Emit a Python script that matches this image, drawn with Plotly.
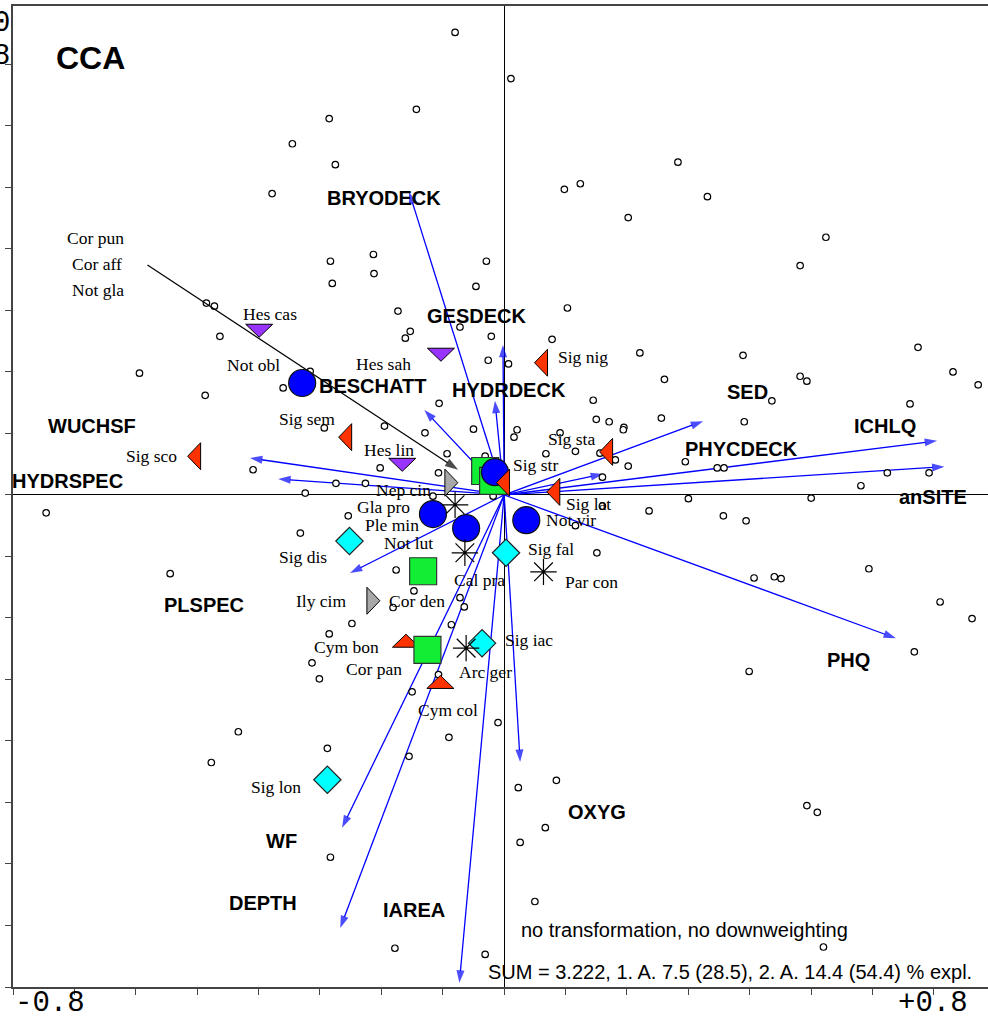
import plotly.graph_objects as go

# ---------------- data (CCA scores) ----------------
site_x = [-0.080, 0.011, -0.143, -0.285, -0.345, -0.275, 0.283, 0.124, 0.098, 0.331,
          -0.378, 0.202, 0.524, -0.213, -0.283, -0.029, 0.482, -0.212, -0.280, -0.046,
          -0.485, -0.472, -0.463, -0.173, 0.103, -0.153, -0.161, -0.072, -0.021, -0.026,
          -0.316, -0.360, -0.106, -0.195, -0.129, -0.293, -0.050, -0.093, -0.202, -0.107,
          -0.409, -0.274, -0.226, -0.324, -0.594, -0.487, -0.746, -0.544, 0.078, 0.221,
          0.389, 0.007, 0.261, 0.145, 0.150, 0.171, 0.195, 0.194, 0.256, 0.391,
          0.021, 0.016, 0.091, 0.068, 0.116, 0.156, 0.181, 0.202, 0.295, 0.347,
          0.358, 0.160, 0.300, 0.236, 0.357, 0.394, 0.160, 0.482, 0.493, 0.772,
          0.436, 0.661, 0.674, 0.731, 0.624, 0.692, 0.581, 0.500, 0.594, 0.407,
          0.440, 0.451, 0.710, 0.762, 0.668, 0.399, 0.493, 0.510, 0.520, 0.023,
          0.085, 0.067, 0.026, 0.050, -0.178, -0.031, -0.433, -0.477, -0.288, -0.248,
          -0.285, -0.313, -0.301, -0.065, -0.181, -0.086, -0.107, -0.150, -0.090, -0.155,
          -0.010, -0.116, -0.254, -0.332, -0.176, -0.147, -0.072, 0.151, 0.116, -0.283,
          -0.031, -0.018]
site_y = [0.752, 0.677, 0.627, 0.612, 0.571, 0.537, 0.541, 0.506, 0.497, 0.485,
          0.490, 0.451, 0.419, 0.391, 0.380, 0.380, 0.373, 0.360, 0.344, 0.339,
          0.312, 0.307, 0.258, 0.299, 0.304, 0.266, 0.255, 0.273, 0.258, 0.219,
          0.201, 0.174, 0.149, 0.112, 0.101, 0.109, 0.107, 0.067, 0.044, 0.036,
          0.041, 0.019, 0.019, 0.003, 0.198, 0.162, -0.029, -0.128, 0.253, 0.231,
          0.227, 0.213, 0.188, 0.154, 0.123, 0.119, 0.110, 0.106, 0.125, 0.119,
          0.106, 0.094, 0.101, 0.067, 0.071, 0.068, 0.057, 0.047, 0.054, 0.044,
          0.044, 0.029, -0.006, -0.026, -0.034, -0.042, -0.018, 0.193, 0.185, 0.179,
          0.153, 0.148, 0.240, 0.200, 0.036, 0.036, 0.015, -0.005, -0.120, -0.135,
          -0.133, -0.136, -0.174, -0.201, -0.255, -0.287, -0.505, -0.516, -0.735, -0.476,
          -0.464, -0.541, -0.565, -0.661, -0.737, -0.747, -0.385, -0.435, -0.412, -0.209,
          -0.226, -0.273, -0.299, -0.182, -0.183, -0.211, -0.292, -0.320, -0.394, -0.425,
          -0.370, -0.002, -0.034, -0.062, -0.122, -0.156, -0.167, -0.094, -0.050, -0.589,
          0.063, -0.002]

env_names = ["BRYODECK", "GESDECK", "HYDRDECK", "BESCHATT", "WUCHSF", "HYDRSPEC", "SED",
             "PHYCDECK", "ICHLQ", "anSITE", "PHQ", "PLSPEC", "WF", "DEPTH", "IAREA", "OXYG"]
env_x = [-0.155, -0.002, -0.015, -0.130, -0.414, -0.368, 0.324, 0.161, 0.705, 0.717,
         0.638, -0.251, -0.264, -0.267, -0.073, 0.026]
env_y = [0.493, 0.244, 0.153, 0.138, 0.060, 0.026, 0.120, 0.034, 0.088, 0.046,
         -0.233, -0.127, -0.541, -0.704, -0.793, -0.434]

circ_names = ["Not obl", "Not gla", "Ple min", "Not lut", "Not vir"]
circ_x = [-0.329, -0.015, -0.116, -0.062, 0.036]
circ_y = [0.182, 0.037, -0.031, -0.054, -0.041]

sq_names = ["Cor pun", "Cor aff", "Cor den", "Cor pan"]
sq_x = [-0.031, -0.018, -0.132, -0.125]
sq_y = [0.039, 0.023, -0.124, -0.252]

redl_names = ["Sig nig", "Sig sem", "Sig sco", "Sig sta", "Sig lat", "Sig str"]
redl_x = [0.060, -0.259, -0.505, 0.166, 0.080, -0.002]
redl_y = [0.215, 0.094, 0.063, 0.070, 0.005, 0.020]

redu_names = ["Cym bon", "Cym col"]
redu_x = [-0.160, -0.104]
redu_y = [-0.237, -0.304]

purp_names = ["Hes cas", "Hes sah", "Hes lin"]
purp_x = [-0.399, -0.103, -0.166]
purp_y = [0.267, 0.228, 0.049]

gray_names = ["Nep cin", "Ily cim"]
gray_x = [-0.086, -0.213]
gray_y = [0.020, -0.172]

dia_names = ["Sig dis", "Sig fal", "Sig iac", "Sig lon"]
dia_x = [-0.252, 0.003, -0.036, -0.288]
dia_y = [-0.075, -0.094, -0.241, -0.463]

ast_names = ["Gla pro", "Cal pra", "Par con", "Arc ger"]
ast_x = [-0.080, -0.064, 0.064, -0.062]
ast_y = [-0.016, -0.094, -0.125, -0.249]

# species whose labels are grouped and joined by a leader line
leader_names = ["Cor pun", "Cor aff", "Not gla"]

# ---------------- layout / style ----------------
W, H = 988, 1018
ML, MR, MT, MB = 13, 0, 6, 31
X_RANGE = [-0.8, 0.788]
Y_RANGE = [-0.8, 0.795]
PX_X = (W - ML - MR) / (X_RANGE[1] - X_RANGE[0])
PX_Y = (H - MT - MB) / (Y_RANGE[1] - Y_RANGE[0])

# label offsets in pixels (dx right, dy up)
env_lab_off = [(-25, -6), (-26, 29), (14, 11), (-52, 24), (-158, 32), (-211, -2), (44, 29),
               (138, 25), (-52, 15), (-11, -30), (-47, -22), (-146, -32), (-61, -13),
               (-77, 25), (-45, 73), (77, -50)]
circ_lab_off = [(-49, 18), None, (-41, -11), (-58, -15), (45, 0)]
sq_lab_off = [None, None, (-6, -30), (-53, -19)]
redl_lab_off = [(42, 6), (-38, 18), (-43, 0), (-35, 13), (35, -12), (33, 18)]
redu_lab_off = [(-59, -6), (8, -28)]
purp_lab_off = [(11, 17), (-57, -9), (-13, 15)]
gray_lab_off = [(-48, -7), (-52, 0)]
dia_lab_off = [(-46, -16), (45, 4), (47, 3), (-51, -7)]
ast_lab_off = [(-72, -2), (15, -27), (48, -10), (19, -24)]
leader_tail = (-0.581, 0.374)
leader_head = (-0.075, 0.041)
leader_lab_off = [(-52, 27), (-50, 1), (-49, -25)]

fig = go.Figure()

# environmental arrows
for ex, ey in zip(env_x, env_y):
    fig.add_trace(go.Scatter(
        x=[0, ex], y=[0, ey], mode="lines+markers",
        line=dict(color="#0000FF", width=1.3),
        marker=dict(symbol="arrow", size=[0, 13], angleref="previous",
                    color="#0000FF", line=dict(width=0)),
        hoverinfo="skip", showlegend=False))

# sites
fig.add_trace(go.Scatter(
    x=site_x, y=site_y, mode="markers",
    marker=dict(symbol="circle", size=6.5, color="white",
                line=dict(color="black", width=1.2)),
    hoverinfo="skip", showlegend=False))

# leader line
fig.add_trace(go.Scatter(
    x=[leader_tail[0], leader_head[0]], y=[leader_tail[1], leader_head[1]],
    mode="lines+markers", line=dict(color="black", width=1.2),
    marker=dict(symbol="arrow", size=[0, 14], angleref="previous",
                color="black", line=dict(width=0)),
    hoverinfo="skip", showlegend=False))


def polys(xs, ys, verts):
    px, py = [], []
    for x, y in zip(xs, ys):
        for vx, vy in verts + [verts[0]]:
            px.append(x + vx / PX_X)
            py.append(y - vy / PX_Y)
        px.append(None)
        py.append(None)
    return px, py


TRI_LEFT = [(-6.5, 0), (6.5, -13.5), (6.5, 13.5)]
TRI_RIGHT = [(6.5, 0), (-6.5, -13.5), (-6.5, 13.5)]
TRI_UP = [(0, -6.5), (13.5, 6.5), (-13.5, 6.5)]
TRI_DOWN = [(0, 6.5), (13.5, -6.5), (-13.5, -6.5)]


def add_poly(xs, ys, verts, color):
    px, py = polys(xs, ys, verts)
    fig.add_trace(go.Scatter(
        x=px, y=py, mode="lines", fill="toself", fillcolor=color,
        line=dict(color="black", width=1), hoverinfo="skip", showlegend=False))


add_poly(redu_x, redu_y, TRI_UP, "#FF3300")
add_poly(purp_x, purp_y, TRI_DOWN, "#9933FF")

fig.add_trace(go.Scatter(
    x=dia_x, y=dia_y, mode="markers",
    marker=dict(symbol="diamond", size=21, color="#00FFFF",
                line=dict(color="#222222", width=1.2)),
    hoverinfo="skip", showlegend=False))
fig.add_trace(go.Scatter(
    x=sq_x, y=sq_y, mode="markers",
    marker=dict(symbol="square", size=27, color="#11EE33",
                line=dict(color="#333333", width=1.2)),
    hoverinfo="skip", showlegend=False))
fig.add_trace(go.Scatter(
    x=circ_x, y=circ_y, mode="markers",
    marker=dict(symbol="circle", size=27, color="#0000FF",
                line=dict(color="#111111", width=1.2)),
    hoverinfo="skip", showlegend=False))
fig.add_trace(go.Scatter(
    x=ast_x, y=ast_y, mode="markers",
    marker=dict(symbol="asterisk", size=22, color="black",
                line=dict(color="black", width=1.2)),
    hoverinfo="skip", showlegend=False))
add_poly(gray_x, gray_y, TRI_RIGHT, "#A8A8A8")
add_poly(redl_x, redl_y, TRI_LEFT, "#FF3300")

# ---------------- labels ----------------
SERIF = dict(family="Liberation Serif", size=17.5, color="black")
BOLD = dict(family="Liberation Sans", size=20, color="black", weight="bold")


def add_labels(names, xs, ys, offs, font):
    for n, x, y, o in zip(names, xs, ys, offs):
        if o is None:
            continue
        fig.add_annotation(x=x, y=y, text=n, showarrow=False, xanchor="center",
                           yanchor="middle", xshift=o[0], yshift=o[1], font=font)


add_labels(env_names, env_x, env_y, env_lab_off, BOLD)
add_labels(circ_names, circ_x, circ_y, circ_lab_off, SERIF)
add_labels(sq_names, sq_x, sq_y, sq_lab_off, SERIF)
add_labels(redl_names, redl_x, redl_y, redl_lab_off, SERIF)
add_labels(redu_names, redu_x, redu_y, redu_lab_off, SERIF)
add_labels(purp_names, purp_x, purp_y, purp_lab_off, SERIF)
add_labels(gray_names, gray_x, gray_y, gray_lab_off, SERIF)
add_labels(dia_names, dia_x, dia_y, dia_lab_off, SERIF)
add_labels(ast_names, ast_x, ast_y, ast_lab_off, SERIF)
add_labels(leader_names, [leader_tail[0]] * 3, [leader_tail[1]] * 3, leader_lab_off, SERIF)


def paper_text(x, y, text, font, xanchor="center"):
    fig.add_annotation(xref="paper", yref="paper", x=x, y=y, text=text,
                       showarrow=False, xanchor=xanchor, yanchor="middle", font=font)


paper_text(0.079, 0.947, "CCA",
           dict(family="Liberation Sans", size=32, color="black", weight="bold"))
paper_text(0.519, 0.058, "no transformation, no downweighting",
           dict(family="Liberation Sans", size=20, color="black"), "left")
paper_text(0.485, 0.0153, "SUM = 3.222, 1. A. 7.5 (28.5), 2. A. 14.4 (54.4) % expl.",
           dict(family="Liberation Sans", size=20, color="black"), "left")

MONO = dict(family="Liberation Mono", size=29, color="black")
paper_text(0.0, -0.0173, "-0.8", MONO, "left")
paper_text(0.9815, -0.0173, "+0.8", MONO, "right")
paper_text(-0.0123, 0.982, "0", MONO)
paper_text(-0.0123, 0.949, "8", MONO)

AX = dict(showgrid=False, zeroline=True, zerolinecolor="black", zerolinewidth=1,
          showline=True, linecolor="#444444", linewidth=1.5, ticks="outside",
          ticklen=6, tickwidth=1.2, tickcolor="#444444", tick0=0, dtick=0.1,
          showticklabels=False)

fig.update_layout(
    width=W, height=H,
    margin=dict(l=ML, r=MR, t=MT, b=MB),
    paper_bgcolor="white", plot_bgcolor="white",
    showlegend=False, hovermode=False,
    xaxis=dict(range=X_RANGE, mirror=True, **AX),
    yaxis=dict(range=Y_RANGE, mirror=False, **AX),
)

fig.write_html("out.html", config={"displayModeBar": False},
               post_script="document.body.style.margin='0';document.body.style.overflow='hidden';")
